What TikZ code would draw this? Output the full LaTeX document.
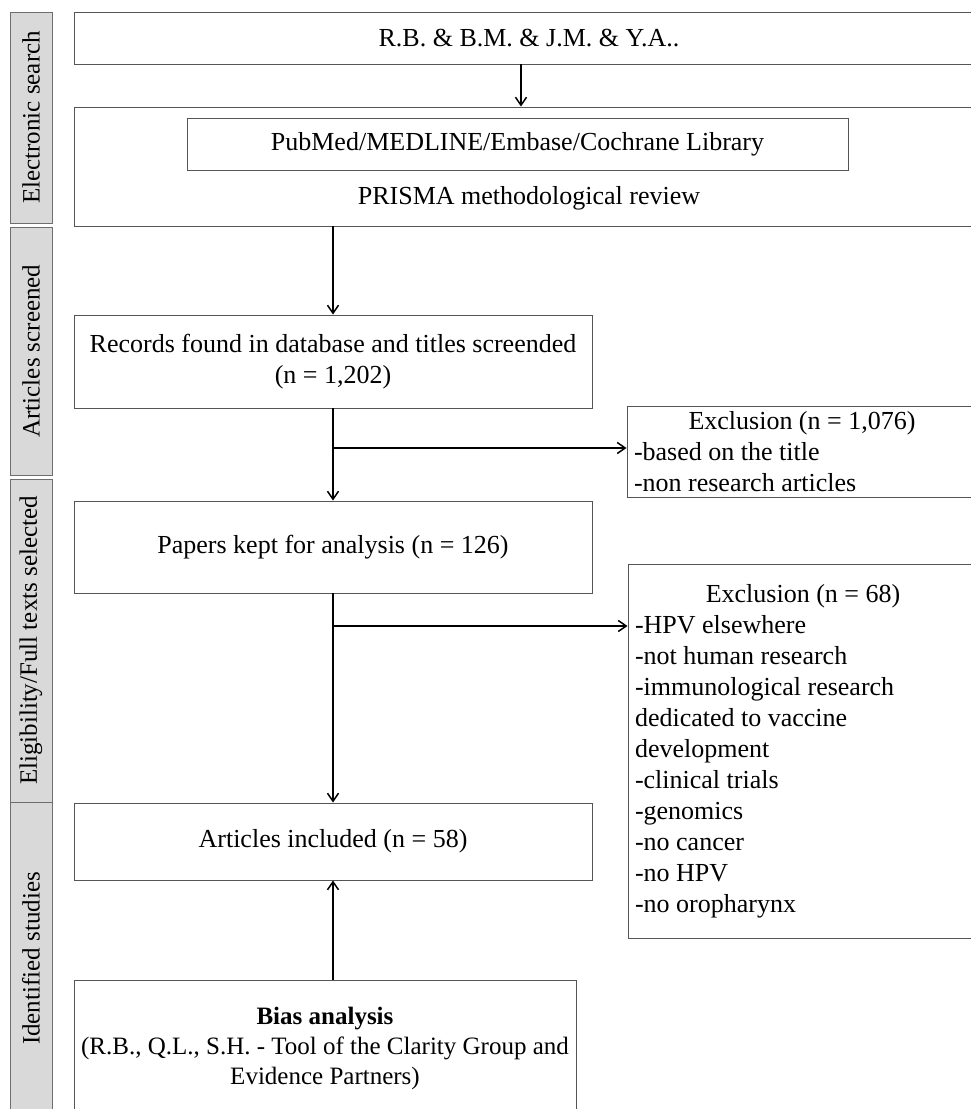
\documentclass[tikz,border=0pt]{standalone}
\usepackage{fontspec}
\setmainfont{Liberation Serif}
\usetikzlibrary{arrows.meta}
\definecolor{boxline}{HTML}{555555}
\definecolor{sidefill}{HTML}{D9D9D9}
\definecolor{sideline}{HTML}{6E6E6E}
\begin{document}
\begin{tikzpicture}[x=1pt,y=-1pt,
  every node/.style={font=\fontsize{26}{31}\selectfont},
  mainbox/.style={draw=boxline, line width=0.9pt, inner sep=0pt, align=center},
  exbox/.style={draw=boxline, line width=0.9pt, inner xsep=7pt, inner ysep=0pt, text width=336pt, align=flush left},
  sidelab/.style={draw=sideline, fill=sidefill, line width=0.9pt, rotate=90, minimum height=42pt, inner sep=0pt, font=\fontsize{25}{30}\selectfont},
  arr/.style={line width=1.5pt, -{Straight Barb[length=8pt,width=11pt,line width=1.5pt]}}
]
\useasboundingbox (0,0) rectangle (971,1109);

% side labels
\node[sidelab, minimum width=211pt] (es) at (31,117.5) {Electronic search};
\node[sidelab, minimum width=248pt] (as) at (31,351) {Articles screened};
\node[sidelab, minimum width=323pt] (el) at (31,640.5) {Eligibility/Full texts selected};
\node[sidelab, minimum width=313pt] (is) at (31,958.5) {Identified studies};

% electronic search
\node[mainbox, minimum width=910pt, minimum height=52pt] (top) at (529,38) {R.B. \& B.M. \& J.M. \& Y.A..};
\node[mainbox, minimum width=910pt, minimum height=119pt] (search) at (529,166.5) {};
\node[mainbox, minimum width=661pt, minimum height=52pt] (db) at (517.5,144) {PubMed/MEDLINE/Embase/Cochrane Library};
\node (prisma) at (529,198) {PRISMA methodological review};

% main column
\node[mainbox, minimum width=518pt, minimum height=93pt] (rec) at (333,361.5) {Records found in database and titles screended\\(n = 1,202)};
\node[mainbox, minimum width=518pt, minimum height=92pt] (pap) at (333,547) {Papers kept for analysis (n = 126)};
\node[mainbox, minimum width=518pt, minimum height=77pt] (art) at (333,841.5) {Articles included (n = 58)};
\node[mainbox, minimum width=502pt, minimum height=136pt, font=\fontsize{25}{30}\selectfont] (bias) at (325,1048) {\textbf{Bias analysis}\\(R.B., Q.L., S.H. - Tool of the Clarity Group and\\Evidence Partners)};

% exclusions
\node[exbox, minimum height=91pt] (ex1) at (802,451.5) {\hfill Exclusion (n = 1,076)\hfill\null\\-based on the title\\-non research articles};
\node[exbox, minimum height=374pt] (ex2) at (803,751) {\hfill Exclusion (n = 68)\hfill\null\\-HPV elsewhere\\-not human research\\-immunological research\\dedicated to vaccine\\development\\-clinical trials\\-genomics\\-no cancer\\-no HPV\\-no oropharynx};

% connectors
\coordinate (ax) at (521,0);
\draw[arr] (top.south -| ax) -- (search.north -| ax);
\draw[arr] (search.south -| rec.north) -- (rec.north);
\draw[arr] (rec.south) -- (pap.north);
\draw[arr] (pap.south) -- (art.north);
\draw[arr] (art.south |- bias.north) -- (art.south);
\coordinate (b1) at (333,448);
\coordinate (b2) at (333,626);
\draw[arr] (b1) -- (b1 -| ex1.west);
\draw[arr] (b2) -- (b2 -| ex2.west);
\end{tikzpicture}
\end{document}
